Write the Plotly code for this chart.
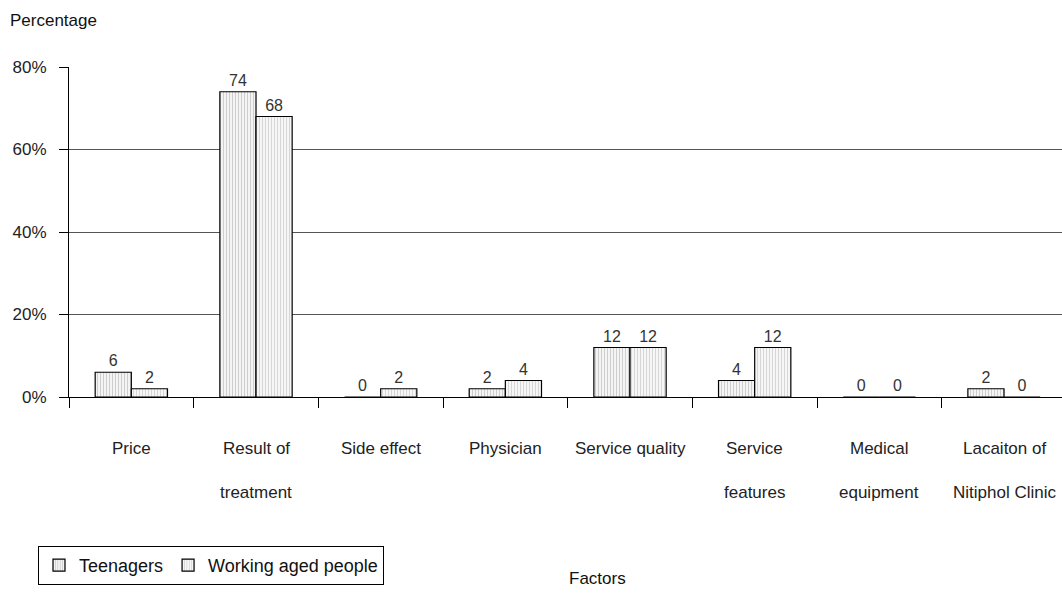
import plotly.graph_objects as go

categories = ["Price", "Result of treatment", "Side effect", "Physician", "Service quality",
              "Service features", "Medical equipment", "Lacaiton of Nitiphol Clinic"]
label_line1 = ["Price", "Result of", "Side effect", "Physician", "Service quality",
               "Service", "Medical", "Lacaiton of"]
label_line2 = ["", "treatment", "", "", "", "features", "equipment", "Nitiphol Clinic"]
teenagers = [6, 74, 0, 2, 12, 4, 0, 2]
working = [2, 68, 2, 4, 12, 12, 0, 0]
y_ticks = [0, 20, 40, 60, 80]
y_tick_text = ["0%", "20%", "40%", "60%", "80%"]

FONT = "Liberation Sans, Arial, sans-serif"

fig = go.Figure()
fig.add_trace(go.Bar(
    x=categories, y=teenagers, name="Teenagers",
    marker=dict(color="#f4f4f4", line=dict(color="black", width=1.2),
                pattern=dict(shape="|", size=3, solidity=0.35, fgcolor="#a8a8a8")),
    text=teenagers, textposition="outside", cliponaxis=False,
    textfont=dict(size=16, color="#333"),
))
fig.add_trace(go.Bar(
    x=categories, y=working, name="Working aged people",
    marker=dict(color="#f6f6f6", line=dict(color="black", width=1.2),
                pattern=dict(shape="|", size=3, solidity=0.3, fgcolor="#b0b0b0")),
    text=working, textposition="outside", cliponaxis=False,
    textfont=dict(size=16, color="#333"),
))

for i, cat in enumerate(categories):
    fig.add_annotation(x=cat, y=-0.157, xref="x", yref="paper", text=label_line1[i],
                       showarrow=False, font=dict(size=17, color="#222"), yanchor="middle")
    if label_line2[i]:
        fig.add_annotation(x=cat, y=-0.288, xref="x", yref="paper", text=label_line2[i],
                           showarrow=False, font=dict(size=17, color="#222"), yanchor="middle")

fig.add_annotation(x=(8 - 69) / 993, y=(397 - 20) / 330, xref="paper", yref="paper",
                   text="Percentage", showarrow=False, xanchor="left", yanchor="middle",
                   font=dict(size=17, color="#111"))
fig.add_annotation(x=(597 - 69) / 993, y=(397 - 578) / 330, xref="paper", yref="paper",
                   text="Factors", showarrow=False, xanchor="center", yanchor="middle",
                   font=dict(size=17, color="#111"))

fig.update_layout(
    width=1062, height=599,
    margin=dict(l=69, r=0, t=67, b=202),
    paper_bgcolor="white", plot_bgcolor="white",
    font=dict(family=FONT, size=17, color="#222"),
    barmode="group", bargap=0.42, bargroupgap=0,
    showlegend=True,
    legend=dict(orientation="h", x=(38 - 69) / 993, y=(397 - 546) / 330,
                xanchor="left", yanchor="top",
                bordercolor="black", borderwidth=1, font=dict(size=18, color="#111"),
                itemwidth=30, tracegroupgap=0),
    xaxis=dict(type="category", range=[-0.5, 7.465], showticklabels=False,
               showline=True, linecolor="black", linewidth=1, ticks="outside",
               tickson="boundaries", ticklen=10, tickcolor="black", showgrid=False,
               zeroline=False),
    yaxis=dict(range=[0, 80], tickmode="array", tickvals=y_ticks, ticktext=y_tick_text,
               showline=True, linecolor="black", linewidth=1, ticks="outside", ticklen=9,
               tickcolor="black", showgrid=True, gridcolor="#555", gridwidth=1,
               zeroline=False, ticklabelstandoff=9, tickfont=dict(size=17, color="#222")),
)

fig.write_html("out.html")
